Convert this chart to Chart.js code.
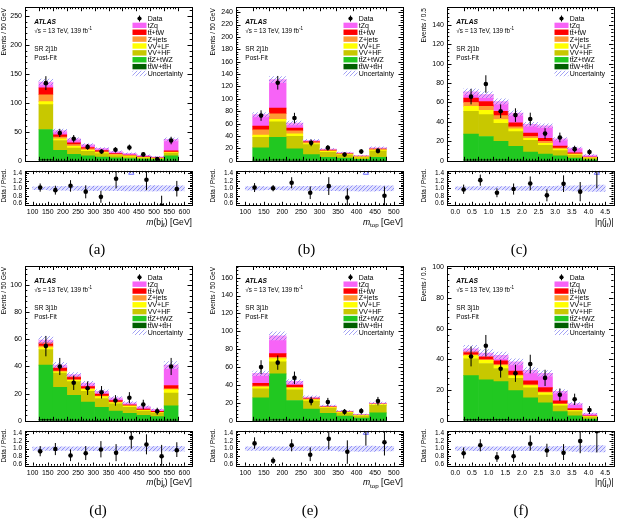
<!DOCTYPE html>
<html><head><meta charset="utf-8">
<script src="https://cdn.jsdelivr.net/npm/chart.js@4.4.1/dist/chart.umd.min.js"></script>
<style>
html,body{margin:0;padding:0;background:#fff;}
#wrap{position:relative;width:618px;height:523px;overflow:hidden;background:#fff;}
canvas{position:absolute;}
.cap{position:absolute;font-family:"Liberation Serif","DejaVu Serif",serif;font-size:15px;color:#000;transform:translate(-50%,-50%);white-space:nowrap;}
</style></head><body><div id="wrap"></div>
<script>
// ---------------- DATA ----------------
const binsMbj  = [125,175,225,275,325,375,425,475,525,575];
const binsMtop = [125,175,225,275,325,375,425,475];
const binsEta  = [0.25,0.75,1.25,1.75,2.25,2.75,3.25,3.75,4.25];
const xTicksMbj  = [100,150,200,250,300,350,400,450,500,550,600];
const xTicksMtop = [100,150,200,250,300,350,400,450,500];
const xTicksEta  = [0,0.5,1,1.5,2,2.5,3,3.5,4,4.5];
const yTicksA = [0,50,100,150,200,250];
const yTicksB = [0,20,40,60,80,100,120,140,160,180,200,220,240];
const yTicksC = [0,20,40,60,80,100,120,140];
const yTicksD = [0,20,40,60,80,100];
const yTicksE = [0,20,40,60,80,100,120,140,160];
const yTicksF = [0,20,40,60,80,100];
const ratioTicks = [0.6,0.8,1.0,1.2,1.4];
const legendLabels = ['tZq','tt\u0304+tW','Z+jets','VV+LF','VV+HF','tt\u0304Z+tWZ','tt\u0304W+tt\u0304H'];

// (a) SR 2j1b, m(bj_f)
const a_ttWH = [2,1,1,0.5,0.5,0.5,0.5,0.3,0.2,0.5];
const a_ttZ  = [52,17,10,8,6,4.5,3.5,2.5,2,8];
const a_VVHF = [43,17,11,8,6,4,3,2,1.5,4.5];
const a_VVLF = [5,3,3,2,1.5,1,1,0.7,0.5,1];
const a_Zjets= [12,3,3,2,1.5,1,1,0.7,0.5,1];
const a_tt   = [12,4,3,2.5,2,1.5,1,0.8,0.5,2];
const a_tZq  = [10,7,7,5,4,3.5,3,2.5,1.8,20];
const a_unc  = [5,2.6,2,1.6,1.3,1,0.9,0.7,0.5,2.5];
const a_data = [134,48,38,24,16,19,23,11,3,35];
const a_err  = [12,7,6.5,5,4,4.5,5,3.5,2,6.5];
const a_ratio= [1.02,0.95,1.07,0.91,0.77,1.26,1.77,1.23,0.53,0.98];
const a_rLo  = [0.91,0.83,0.91,0.73,0.61,1.0,1.5,0.95,0.3,0.78];
const a_rHi  = [1.13,1.07,1.22,1.08,0.93,1.5,2.1,1.5,0.8,1.2];

// (b) SR 2j1b, m_top
const b_ttWH = [1,1.5,1,0.5,0.3,0.2,0.2,0.3];
const b_ttZ  = [20,36.5,18.5,9.5,5.5,4,2,5.5];
const b_VVHF = [17,25,20,16,8,5,3,10];
const b_VVLF = [3.5,4,4,2,1.5,1,0.8,1.5];
const b_Zjets= [8.5,9,5,1.5,1,1,0.7,1];
const b_tt   = [6,9,4.5,2,1.5,1,0.8,1.5];
const b_tZq  = [18.5,46,8,1.5,1.2,1,0.5,1.2];
const b_unc  = [3.5,5,3,1.8,1.2,0.9,0.6,1.4];
const b_data = [73,126,69,29,21,10,15,16];
const b_err  = [8.5,11,8.5,5.5,4.5,3.2,4,4];
const b_ratio= [1.02,1.0,1.15,0.88,1.06,0.75,1.9,0.8];
const b_rLo  = [0.9,0.92,1.0,0.71,0.82,0.5,1.45,0.5];
const b_rHi  = [1.14,1.09,1.3,1.05,1.3,1.0,2.4,1.05];

// (c) SR 2j1b, |eta(j_f)|
const c_ttWH = [1,1,1,0.7,0.5,0.4,0.3,0.2,0.1];
const c_ttZ  = [26.5,24,19,14.3,8.5,6.6,4.7,2.5,1];
const c_VVHF = [23.5,22.5,18.5,15,12,9,5.5,3,1.5];
const c_VVLF = [5,4.5,4,3,2,2,1.5,0.8,0.4];
const c_Zjets= [4,4,4,2,2,2,1.2,0.7,0.4];
const c_tt   = [4.5,5,4.5,4,3.5,3,2,1,0.5];
const c_tZq  = [6.5,7,10,10,9,13,7.3,5,2];
const c_unc  = [3,3,2.7,2.3,2,2,1.3,0.9,0.5];
const c_data = [66,79,51,47,43,28,24,12,9];
const c_err  = [8,9,7,7,6.5,5.5,5,3.5,3];
const c_ratio= [0.97,1.22,0.88,0.98,1.13,0.81,1.12,0.91,1.52];
const c_rLo  = [0.85,1.07,0.76,0.83,0.95,0.65,0.9,0.65,1.0];
const c_rHi  = [1.1,1.37,1.0,1.13,1.32,0.97,1.35,1.17,2.0];

// (d) SR 3j1b, m(bj_f)
const d_ttWH = [1,0.6,0.5,0.4,0.3,0.2,0.2,0.1,0.1,0.5];
const d_ttZ  = [40,24,18.3,13.3,9.7,7,5.3,4,3,10.5];
const d_VVHF = [11.5,10.5,10,8,6.4,5.3,4.5,3,2.5,9.5];
const d_VVLF = [1.5,1,1,1.5,1.4,1,0.8,0.6,0.5,2.5];
const d_Zjets= [1,0.5,0.5,0.5,0.4,0.3,0.2,0.2,0.2,0.5];
const d_tt   = [2.5,2.5,2,1.5,1.5,1,0.8,0.7,0.6,2.5];
const d_tZq  = [2,2,1.7,2.5,2,2.2,1.5,1.8,1.5,15];
const d_unc  = [2.7,1.9,1.6,1.4,1.1,0.9,0.8,0.6,0.5,2.6];
const d_data = [55,40,28,24,21,15,17,12,7,40];
const d_err  = [7.5,6.3,5.3,5,4.6,3.9,4.1,3.5,2.6,6.3];
const d_ratio= [0.93,0.99,0.82,0.88,0.98,0.89,1.29,1.11,0.8,0.96];
const d_rLo  = [0.8,0.83,0.67,0.7,0.77,0.67,1.0,0.85,0.5,0.78];
const d_rHi  = [1.07,1.15,0.98,1.07,1.2,1.12,1.55,1.38,1.1,1.17];

// (e) SR 3j1b, m_top
const e_ttWH = [0.8,1.5,0.7,0.4,0.3,0.2,0.1,0.3];
const e_ttZ  = [25,51,22,12.6,8,5,3,8.5];
const e_VVHF = [10,13.5,12,9,5.5,3.5,2.5,8.5];
const e_VVLF = [2,3.5,2,1.5,1,0.8,0.5,1];
const e_Zjets= [1,1.5,0.8,0.5,0.3,0.2,0.1,0.2];
const e_tt   = [3.2,4,2.5,1.5,1,0.8,0.5,0.8];
const e_tZq  = [11,20,4,1,0.7,0.5,0.3,0.5];
const e_unc  = [2.5,4.5,2.2,1.4,0.9,0.7,0.5,1.2];
const e_data = [60,65,48,22,21,10,11,22];
const e_err  = [7.7,8,7,4.7,4.6,3.2,3.3,4.7];
const e_ratio= [1.14,0.68,1.09,0.84,1.26,0.92,1.57,1.17];
const e_rLo  = [1.0,0.6,0.93,0.67,0.98,0.6,1.08,0.82];
const e_rHi  = [1.3,0.77,1.25,1.03,1.55,1.22,2.0,1.5];

// (f) SR 3j1b, |eta(j_f)|
const f_ttWH = [1,1,1,0.7,0.5,0.4,0.3,0.2,0.1];
const f_ttZ  = [28.5,25.7,24.6,19,14.5,11.3,5.7,3,1];
const f_VVHF = [11,10.7,8.5,8,6.5,5,3.7,2.8,1.3];
const f_VVLF = [2,2,2,1.7,1.5,1.5,1,0.6,0.3];
const f_Zjets= [0.5,0.5,0.5,0.5,0.5,0.5,0.3,0.2,0.1];
const f_tt   = [2,2,2.5,2.5,2.5,3,2,1.2,0.5];
const f_tZq  = [2,2.3,3.6,6.1,7,9.3,6.2,3.3,1.4];
const f_unc  = [2.3,2.2,2.1,2,1.8,1.8,1.2,0.8,0.4];
const f_data = [42,49,34,31,37,28,17,14,7];
const f_err  = [6.5,7,5.8,5.6,6.1,5.3,4.1,3.7,2.6];
const f_ratio= [0.88,1.09,0.77,0.8,1.13,0.95,0.89,1.2,1.46];
const f_rLo  = [0.74,0.93,0.65,0.65,0.95,0.78,0.7,0.88,0.9];
const f_rHi  = [1.03,1.25,0.91,0.95,1.35,1.13,1.12,1.45,2.0];

// ---------------- STYLE / LAYOUT ----------------
const FONT = '"Liberation Sans", Arimo, Arial, sans-serif';
const STACK_COLORS = ['#005f00','#21c821','#c8c800','#ffff00','#ff9933','#ff0000','#f763f7']; // bottom -> top
const RMIN = 0.55, RMAX = 1.47;
const COLX = [0,206,412], AL = [25,236,447], AR = [192,403,613.5];
const ROWS = [
  {mY:0, mH:168, mT:5, mB:162.3, rY:164, rH:70, rT:169, rB:205},
  {mY:258, mH:170, mT:266, mB:423.3, rY:424, rH:70, rT:429.3, rB:465.7}
];

function hatchPattern(bg, line, lw){
  const c = document.createElement('canvas'); c.width = 4; c.height = 4;
  const g = c.getContext('2d');
  if (bg){ g.fillStyle = bg; g.fillRect(0,0,4,4); }
  g.strokeStyle = line; g.lineWidth = lw;
  g.beginPath();
  g.moveTo(-1,5); g.lineTo(5,-1);
  g.moveTo(-1,1); g.lineTo(1,-1);
  g.moveTo(3,5); g.lineTo(5,3);
  g.stroke();
  return g.createPattern(c,'repeat');
}
const HATCH_MAIN = hatchPattern('rgba(255,255,255,0.35)','rgba(90,90,235,0.7)',0.8);
const HATCH_RATIO = hatchPattern('rgba(180,180,255,0.4)','rgba(100,100,240,0.7)',0.9);

function makeCanvas(x,y,w,h){
  const c = document.createElement('canvas');
  c.width = w; c.height = h;
  c.style.left = x+'px'; c.style.top = y+'px'; c.style.width = w+'px'; c.style.height = h+'px';
  document.getElementById('wrap').appendChild(c);
  return c;
}

function drawSegs(ctx, segs, x, y, size, align){
  const parts = segs.map(s=>{
    const fs = (s.sub||s.sup) ? size*0.72 : size;
    const f = (s.it?'italic ':'') + (s.b?'bold ':'') + fs + 'px ' + FONT;
    ctx.font = f;
    return {t:s.t, f, w:ctx.measureText(s.t).width, dy: s.sub ? size*0.32 : (s.sup ? -size*0.42 : 0)};
  });
  const total = parts.reduce((a,p)=>a+p.w,0);
  let cx = align==='right' ? x-total : (align==='center' ? x-total/2 : x);
  ctx.textAlign = 'left'; ctx.textBaseline = 'alphabetic';
  parts.forEach(p=>{ ctx.font = p.f; ctx.fillText(p.t, cx, y+p.dy); cx += p.w; });
}

function rotatedText(ctx, text, x, yTop, size){
  ctx.save();
  ctx.translate(x, yTop); ctx.rotate(-Math.PI/2);
  ctx.font = size+'px '+FONT; ctx.textAlign = 'right'; ctx.textBaseline = 'middle';
  ctx.fillStyle = '#000';
  ctx.fillText(text, 0, 0);
  ctx.restore();
}

function subTicks(ticks, n, lo, hi){
  const step = (ticks[1]-ticks[0])/n, t0 = ticks[0], out = [];
  const kmin = Math.ceil((lo-t0)/step - 1e-6), kmax = Math.floor((hi-t0)/step + 1e-6);
  for (let k=kmin; k<=kmax; k++) out.push({v:t0+k*step, major: ((k%n)+n)%n===0});
  return out;
}

function frameTicks(chart, xt, xn, yt, yn, xMaj, xMin, yMaj, yMin){
  const {ctx, chartArea:a, scales:{x, y}} = chart;
  ctx.save();
  ctx.strokeStyle = '#000'; ctx.lineWidth = 1;
  ctx.beginPath();
  subTicks(xt, xn, x.min, x.max).forEach(t=>{
    const px = Math.round(x.getPixelForValue(t.v))+0.5, L = t.major?xMaj:xMin;
    ctx.moveTo(px, a.bottom); ctx.lineTo(px, a.bottom-L);
    ctx.moveTo(px, a.top); ctx.lineTo(px, a.top+L);
  });
  subTicks(yt, yn, y.min, y.max).forEach(t=>{
    const py = Math.round(y.getPixelForValue(t.v))+0.5, L = t.major?yMaj:yMin;
    ctx.moveTo(a.left, py); ctx.lineTo(a.left+L, py);
    ctx.moveTo(a.right, py); ctx.lineTo(a.right-L, py);
  });
  ctx.stroke();
  ctx.strokeRect(Math.round(a.left)+0.5, Math.round(a.top)+0.5, Math.round(a.right)-Math.round(a.left), Math.round(a.bottom)-Math.round(a.top));
  ctx.restore();
}

function buildPanel(P){
  const cx = COLX[P.col], aL = AL[P.col], aR = AR[P.col], G = ROWS[P.row];
  const comps = [P.ttWH, P.ttZ, P.VVHF, P.VVLF, P.Zjets, P.tt, P.tZq];
  const totals = P.bins.map((_,i)=>comps.reduce((s,c)=>s+c[i],0));
  const xmin = P.xTicks[0], xmax = P.xTicks[P.xTicks.length-1];
  const fmtX = v => P.xDec ? v.toFixed(1) : String(v);

  // ---------- main ----------
  const ds = [];
  let base = P.bins.map(()=>0);
  comps.forEach((arr,k)=>{
    const top = base.map((b,i)=>b+arr[i]);
    const lo = base;
    ds.push({type:'bar', data:P.bins.map((x,i)=>({x, y:[lo[i], top[i]]})), backgroundColor:STACK_COLORS[k],
      borderWidth:0, grouped:false, barPercentage:1, categoryPercentage:1, order:20+k});
    base = top;
  });
  ds.push({type:'bar', data:P.bins.map((x,i)=>({x, y:[totals[i]-P.unc[i], totals[i]+P.unc[i]]})), backgroundColor:HATCH_MAIN,
    borderWidth:0, grouped:false, barPercentage:1, categoryPercentage:1, order:5});
  ds.push({type:'line', showLine:false, data:P.bins.map((x,i)=>({x, y:P.data[i]})), pointRadius:2.3,
    pointBackgroundColor:'#000', pointBorderColor:'#000', pointBorderWidth:0, order:0});

  const mc = makeCanvas(cx, G.mY, 206, G.mH);
  new Chart(mc, {
    type:'bar', data:{datasets:ds},
    options:{
      responsive:false, animation:false, devicePixelRatio:1, events:[],
      plugins:{legend:{display:false}, tooltip:{enabled:false}},
      layout:{autoPadding:false, padding:{left:0, top:G.mT-G.mY, right:cx+206-aR, bottom:G.mY+G.mH-G.mB}},
      scales:{
        x:{type:'linear', min:xmin, max:xmax, display:false, afterBuildTicks:s=>{s.ticks=P.xTicks.map(v=>({value:v}));}},
        y:{type:'linear', min:0, max:P.ymax,
          afterBuildTicks:s=>{s.ticks=P.yTicks.map(v=>({value:v}));},
          ticks:{font:{family:FONT,size:7}, color:'#000', padding:3, autoSkip:false},
          grid:{display:false, drawTicks:false}, border:{display:false},
          afterFit:s=>{s.width = aL-cx;}}
      }
    },
    plugins:[{
      id:'main'+P.id,
      afterDatasetsDraw(chart){
        const {ctx, chartArea:a, scales:{x,y}} = chart;
        ctx.save(); ctx.beginPath(); ctx.rect(a.left,a.top,a.right-a.left,a.bottom-a.top); ctx.clip();
        ctx.strokeStyle='#000'; ctx.lineWidth=1;
        P.bins.forEach((b,i)=>{
          const px = x.getPixelForValue(b);
          ctx.beginPath(); ctx.moveTo(px, y.getPixelForValue(P.data[i]-P.err[i])); ctx.lineTo(px, y.getPixelForValue(P.data[i]+P.err[i])); ctx.stroke();
        });
        ctx.restore();
      },
      afterDraw(chart){
        const {ctx, chartArea:a} = chart;
        frameTicks(chart, P.xTicks, 5, P.yTicks, 5, 4, 2, 4.5, 2.3);
        ctx.save(); ctx.fillStyle='#000';
        drawSegs(ctx, [{t:'ATLAS', b:true, it:true}], a.left+9.3, a.top+16.6, 6.6);
        drawSegs(ctx, [{t:'\u221As = 13 TeV, 139 fb'},{t:'-1', sup:true}], a.left+9.3, a.top+25.6, 6.3);
        drawSegs(ctx, [{t:P.region}], a.left+9.3, a.top+43.6, 6.5);
        drawSegs(ctx, [{t:'Post-Fit'}], a.left+9.3, a.top+52.6, 6.5);
        const bx = a.left+107.5, bw = 14, bh = 5.4, dy = 6.875, y0 = a.top+11.3;
        ctx.beginPath(); ctx.arc(bx+bw/2, y0, 2.1, 0, Math.PI*2); ctx.fill();
        ctx.fillRect(bx+bw/2-0.5, y0-3, 1, 6);
        drawSegs(ctx, [{t:'Data'}], bx+bw+1.2, y0+2.5, 7);
        legendLabels.forEach((lab,j)=>{
          const yc = y0+dy*(j+1);
          ctx.fillStyle = STACK_COLORS[6-j]; ctx.fillRect(bx, yc-bh/2, bw, bh);
          ctx.fillStyle = '#000'; drawSegs(ctx, [{t:lab}], bx+bw+1.2, yc+2.5, 7);
        });
        const yu = y0+dy*8;
        ctx.fillStyle = HATCH_MAIN; ctx.fillRect(bx, yu-bh/2, bw, bh);
        ctx.fillStyle = '#000'; drawSegs(ctx, [{t:'Uncertainty'}], bx+bw+1.2, yu+2.5, 7);
        ctx.restore();
        rotatedText(ctx, P.ytitle, Math.max(4, a.left-23), a.top+1, 6.5);
      }
    }]
  });

  // ---------- ratio ----------
  const rds = [];
  rds.push({type:'bar', data:P.bins.map((x,i)=>({x, y:[1-P.unc[i]/totals[i], 1+P.unc[i]/totals[i]]})), backgroundColor:HATCH_RATIO,
    borderWidth:0, grouped:false, barPercentage:1, categoryPercentage:1, order:5});
  rds.push({type:'line', showLine:false, data:P.bins.map((x,i)=>({x, y: P.ratio[i] <= RMAX ? P.ratio[i] : null})), pointRadius:2.3,
    pointBackgroundColor:'#000', pointBorderColor:'#000', pointBorderWidth:0, order:0});
  rds.push({type:'line', showLine:false, data:P.bins.map((x,i)=>({x, y: P.ratio[i] > RMAX ? RMAX-0.05 : null})), pointRadius:3,
    pointStyle:'triangle', pointBackgroundColor:'#ffffff', pointBorderColor:'#6a6aff', pointBorderWidth:1, order:0});

  const rc = makeCanvas(cx, G.rY, 206, G.rH);
  new Chart(rc, {
    type:'bar', data:{datasets:rds},
    options:{
      responsive:false, animation:false, devicePixelRatio:1, events:[],
      plugins:{legend:{display:false}, tooltip:{enabled:false}},
      layout:{autoPadding:false, padding:{left:0, top:G.rT-G.rY, right:cx+206-aR, bottom:0}},
      scales:{
        x:{type:'linear', min:xmin, max:xmax,
          afterBuildTicks:s=>{s.ticks=P.xTicks.map(v=>({value:v}));},
          ticks:{font:{family:FONT,size:7}, color:'#000', padding:3, autoSkip:false, maxRotation:0, callback:v=>fmtX(v)},
          grid:{display:false, drawTicks:false}, border:{display:false},
          afterFit:s=>{s.height = G.rY+G.rH-G.rB;}},
        y:{type:'linear', min:RMIN, max:RMAX,
          afterBuildTicks:s=>{s.ticks=ratioTicks.map(v=>({value:v}));},
          ticks:{font:{family:FONT,size:6.5}, color:'#000', padding:3, autoSkip:false, callback:v=>v.toFixed(1)},
          grid:{display:false, drawTicks:false}, border:{display:false},
          afterFit:s=>{s.width = aL-cx;}}
      }
    },
    plugins:[{
      id:'ratio'+P.id,
      afterDatasetsDraw(chart){
        const {ctx, chartArea:a, scales:{x,y}} = chart;
        ctx.save(); ctx.beginPath(); ctx.rect(a.left,a.top,a.right-a.left,a.bottom-a.top); ctx.clip();
        ctx.strokeStyle='#000'; ctx.lineWidth=1;
        P.bins.forEach((b,i)=>{
          const lo = Math.max(P.rLo[i], RMIN-0.1), hi = Math.min(P.rHi[i], RMAX+0.1);
          if (lo >= RMAX) return;
          const px = x.getPixelForValue(b);
          ctx.beginPath(); ctx.moveTo(px, y.getPixelForValue(lo)); ctx.lineTo(px, y.getPixelForValue(hi)); ctx.stroke();
        });
        ctx.restore();
      },
      afterDraw(chart){
        const {ctx, chartArea:a} = chart;
        frameTicks(chart, P.xTicks, 5, ratioTicks, 4, 3.2, 1.7, 4, 2);
        ctx.save(); ctx.fillStyle='#000';
        drawSegs(ctx, P.xtitle, a.right, a.bottom+19.5, 8.6, 'right');
        ctx.restore();
        rotatedText(ctx, 'Data / Pred.', Math.max(4, a.left-23), a.top-2, 6.3);
      }
    }]
  });

  const cap = document.createElement('div');
  cap.className = 'cap'; cap.textContent = P.caption;
  cap.style.left = P.capXY[0]+'px'; cap.style.top = P.capXY[1]+'px';
  document.getElementById('wrap').appendChild(cap);
}

const titleMbj = [{t:'m', it:true},{t:'(bj'},{t:'f', sub:true},{t:') [GeV]'}];
const titleMtop = [{t:'m', it:true},{t:'top', sub:true},{t:' [GeV]'}];
const titleEta = [{t:'|\u03B7(j'},{t:'f', sub:true},{t:')|'}];

const PANELS = [
  {id:'a', col:0, row:0, bins:binsMbj, xTicks:xTicksMbj, xDec:false, yTicks:yTicksA, ymax:265, region:'SR 2j1b', ytitle:'Events / 50 GeV', xtitle:titleMbj, caption:'(a)', capXY:[97,249],
   ttWH:a_ttWH, ttZ:a_ttZ, VVHF:a_VVHF, VVLF:a_VVLF, Zjets:a_Zjets, tt:a_tt, tZq:a_tZq, unc:a_unc, data:a_data, err:a_err, ratio:a_ratio, rLo:a_rLo, rHi:a_rHi},
  {id:'b', col:1, row:0, bins:binsMtop, xTicks:xTicksMtop, xDec:false, yTicks:yTicksB, ymax:248, region:'SR 2j1b', ytitle:'Events / 50 GeV', xtitle:titleMtop, caption:'(b)', capXY:[306.5,249],
   ttWH:b_ttWH, ttZ:b_ttZ, VVHF:b_VVHF, VVLF:b_VVLF, Zjets:b_Zjets, tt:b_tt, tZq:b_tZq, unc:b_unc, data:b_data, err:b_err, ratio:b_ratio, rLo:b_rLo, rHi:b_rHi},
  {id:'c', col:2, row:0, bins:binsEta, xTicks:xTicksEta, xDec:true, yTicks:yTicksC, ymax:158, region:'SR 2j1b', ytitle:'Events / 0.5', xtitle:titleEta, caption:'(c)', capXY:[519,249],
   ttWH:c_ttWH, ttZ:c_ttZ, VVHF:c_VVHF, VVLF:c_VVLF, Zjets:c_Zjets, tt:c_tt, tZq:c_tZq, unc:c_unc, data:c_data, err:c_err, ratio:c_ratio, rLo:c_rLo, rHi:c_rHi},
  {id:'d', col:0, row:1, bins:binsMbj, xTicks:xTicksMbj, xDec:false, yTicks:yTicksD, ymax:114, region:'SR 3j1b', ytitle:'Events / 50 GeV', xtitle:titleMbj, caption:'(d)', capXY:[98,510],
   ttWH:d_ttWH, ttZ:d_ttZ, VVHF:d_VVHF, VVLF:d_VVLF, Zjets:d_Zjets, tt:d_tt, tZq:d_tZq, unc:d_unc, data:d_data, err:d_err, ratio:d_ratio, rLo:d_rLo, rHi:d_rHi},
  {id:'e', col:1, row:1, bins:binsMtop, xTicks:xTicksMtop, xDec:false, yTicks:yTicksE, ymax:173, region:'SR 3j1b', ytitle:'Events / 50 GeV', xtitle:titleMtop, caption:'(e)', capXY:[310,510],
   ttWH:e_ttWH, ttZ:e_ttZ, VVHF:e_VVHF, VVLF:e_VVLF, Zjets:e_Zjets, tt:e_tt, tZq:e_tZq, unc:e_unc, data:e_data, err:e_err, ratio:e_ratio, rLo:e_rLo, rHi:e_rHi},
  {id:'f', col:2, row:1, bins:binsEta, xTicks:xTicksEta, xDec:true, yTicks:yTicksF, ymax:101, region:'SR 3j1b', ytitle:'Events / 0.5', xtitle:titleEta, caption:'(f)', capXY:[521,510],
   ttWH:f_ttWH, ttZ:f_ttZ, VVHF:f_VVHF, VVLF:f_VVLF, Zjets:f_Zjets, tt:f_tt, tZq:f_tZq, unc:f_unc, data:f_data, err:f_err, ratio:f_ratio, rLo:f_rLo, rHi:f_rHi}
];

PANELS.forEach(buildPanel);
</script>
</body></html>
